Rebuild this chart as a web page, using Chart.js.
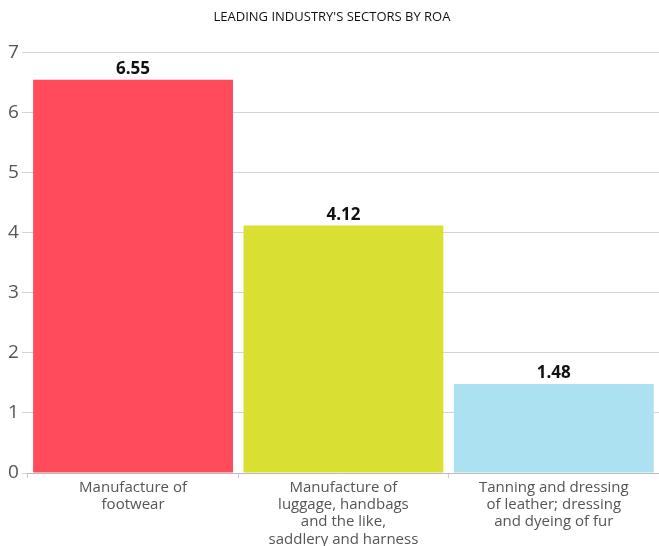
<!DOCTYPE html>
<html>
<head>
<meta charset="utf-8">
<script src="https://cdn.jsdelivr.net/npm/chart.js@4"></script>
<style>
  html, body { margin: 0; padding: 0; background: #fff; }
  #wrap { width: 659px; height: 546px; }
</style>
</head>
<body>
<div id="wrap"><canvas id="roaChart"></canvas></div>
<script>
const categories = [
    ['Manufacture of', 'footwear'],
    ['Manufacture of', 'luggage, handbags', 'and the like,', 'saddlery and harness'],
    ['Tanning and dressing', 'of leather; dressing', 'and dyeing of fur']
];
const roaValues = [6.55, 4.12, 1.48];
const barColors = ['#ff4b5a', '#d9e032', '#ace1f2'];
const yTicks = [0, 1, 2, 3, 4, 5, 6, 7];

Chart.defaults.font.family = 'Open Sans';

// draw the value above each bar
const valueLabels = {
    id: 'valueLabels',
    afterDatasetsDraw(chart) {
        const ctx = chart.ctx;
        const meta = chart.getDatasetMeta(0);
        ctx.save();
        ctx.font = 'bold 17px "Open Sans"';
        ctx.fillStyle = '#111';
        ctx.textAlign = 'center';
        ctx.textBaseline = 'bottom';
        meta.data.forEach((bar, i) => {
            ctx.fillText(roaValues[i].toFixed(2), bar.x, bar.y - 2);
        });
        ctx.restore();
    }
};

new Chart(document.getElementById('roaChart').getContext('2d'), {
    type: 'bar',
    data: {
        labels: categories,
        datasets: [{
            data: roaValues,
            backgroundColor: barColors,
            borderWidth: 0,
            barPercentage: 0.95,
            categoryPercentage: 1
        }]
    },
    options: {
        responsive: true,
        maintainAspectRatio: false,
        animation: false,
        layout: { padding: { left: 5, right: 0, top: 0, bottom: -3 } },
        plugins: {
            legend: { display: false },
            tooltip: { enabled: false },
            title: {
                display: true,
                text: "LEADING INDUSTRY'S SECTORS BY ROA",
                color: '#111',
                font: { size: 13, weight: 'normal' },
                padding: { top: 9, bottom: 28 }
            }
        },
        scales: {
            y: {
                min: 0,
                max: 7,
                afterBuildTicks(axis) { axis.ticks = yTicks.map(v => ({ value: v })); },
                ticks: {
                    color: '#555',
                    font: { size: 19 },
                    padding: 3
                },
                grid: { color: '#d4d4d4', tickLength: 6, drawTicks: true },
                border: { display: false }
            },
            x: {
                ticks: {
                    color: '#555',
                    font: { size: 15, lineHeight: 1.15 },
                    maxRotation: 0,
                    autoSkip: false,
                    padding: 1
                },
                grid: { display: true, drawOnChartArea: false, color: '#ccc', tickLength: 5, offset: true },
                border: { display: true, color: '#bbb', width: 1 }
            }
        }
    },
    plugins: [valueLabels]
});
</script>
</body>
</html>
